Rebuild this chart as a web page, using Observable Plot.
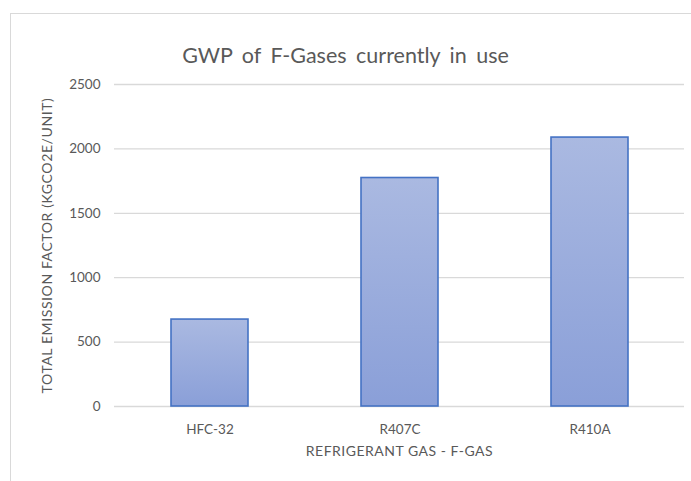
<!DOCTYPE html>
<html>
<head>
<meta charset="utf-8">
<script src="https://cdn.jsdelivr.net/npm/d3@7"></script>
<script src="https://cdn.jsdelivr.net/npm/@observablehq/plot@0.6"></script>
<style>
  html, body { margin: 0; padding: 0; background: #fff; }
  #wrap { position: relative; width: 691px; height: 481px; overflow: hidden; }
  #frame { position: absolute; left: 10px; top: 13px; width: 700px; height: 500px;
           border-left: 1.5px solid #d9d9d9; border-top: 1.5px solid #d9d9d9; box-sizing: border-box; }
  #chart { position: absolute; left: 0; top: 0; }
</style>
</head>
<body>
<div id="wrap"><div id="frame"></div><div id="chart"></div></div>
<script>
const categories = ["HFC-32", "R407C", "R410A"];
const values = [675, 1774, 2088];
const yTicks = [0, 500, 1000, 1500, 2000, 2500];
const title = "GWP of F-Gases currently in use";
const xLabel = "REFRIGERANT GAS - F-GAS";
const yLabel = "TOTAL EMISSION FACTOR (KGCO2E/UNIT)";

const data = categories.map((c, i) => ({gas: c, value: values[i]}));
const font = "Lato, 'Open Sans', sans-serif";
const gray = "#595959";

const plot = Plot.plot({
  width: 691,
  height: 481,
  marginLeft: 114,
  marginRight: 7,
  marginTop: 84,
  marginBottom: 75,
  style: {fontFamily: font, fontSize: "13px", color: gray, background: "transparent"},
  x: {domain: categories, paddingInner: 0.595, paddingOuter: 0.2975, label: null},
  y: {domain: [0, 2500], label: null},
  marks: [
    Plot.gridY(yTicks, {stroke: "#d9d9d9", strokeOpacity: 1, strokeWidth: 1.3}),
    Plot.axisY(yTicks, {tickSize: 0, tickPadding: 14, fill: gray, fontSize: 13.5, label: null, tickFormat: d => String(d)}),
    Plot.axisX({tickSize: 0, tickPadding: 18, fill: gray, fontSize: 13.5, label: null}),
    Plot.barY(data, {x: "gas", y: "value", fill: "url(#barGrad)", stroke: "#4472c4", strokeWidth: 1.6}),
    Plot.text([title], {frameAnchor: "top", dy: -37, dx: -54, fontSize: 21.5, fill: gray, text: d => d, className: "ttl"}),
    Plot.text([xLabel], {frameAnchor: "bottom", dy: 49, fontSize: 14, fill: gray, text: d => d, className: "xl"}),
    Plot.text([yLabel], {frameAnchor: "left", textAnchor: "middle", dx: -67, rotate: -90, fontSize: 14, fill: gray, text: d => d, className: "yl"})
  ]
});

const svg = d3.select(plot);
const grad = svg.insert("defs", ":first-child").append("linearGradient")
  .attr("id", "barGrad").attr("x1", 0).attr("y1", 0).attr("x2", 0).attr("y2", 1);
grad.append("stop").attr("offset", "0%").attr("stop-color", "#aab9e1");
grad.append("stop").attr("offset", "100%").attr("stop-color", "#8a9fd8");
svg.selectAll(".ttl text").style("word-spacing", "4px");
svg.selectAll(".xl text").style("letter-spacing", "0.5px");
svg.selectAll(".yl text").style("letter-spacing", "0.6px");

document.getElementById("chart").appendChild(plot);
</script>
</body>
</html>
